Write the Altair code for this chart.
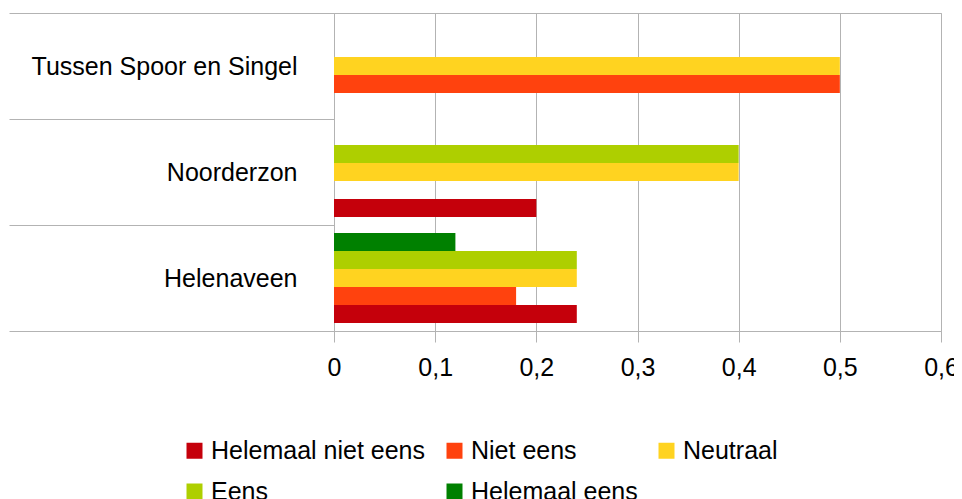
import altair as alt
import pandas as pd

categories = ["Tussen Spoor en Singel", "Noorderzon", "Helenaveen"]
series = ["Helemaal niet eens", "Niet eens", "Neutraal", "Eens", "Helemaal eens"]
colors = ["#C5000B", "#FF420E", "#FFD320", "#AECF00", "#008000"]

helemaal_niet_eens = [0.0, 0.2, 0.24]
niet_eens = [0.5, 0.0, 0.18]
neutraal = [0.5, 0.4, 0.24]
eens = [0.0, 0.4, 0.24]
helemaal_eens = [0.0, 0.0, 0.12]

x_ticks = [0, 0.1, 0.2, 0.3, 0.4, 0.5, 0.6]

rows = []
for s, vals in zip(series, [helemaal_niet_eens, niet_eens, neutraal, eens, helemaal_eens]):
    for c, v in zip(categories, vals):
        rows.append({"Wijk": c, "Mening": s, "Waarde": v})
df = pd.DataFrame(rows)

FONT = "Liberation Sans"
GRID = "#b3b3b3"

chart = alt.Chart(df).mark_bar().encode(
    y=alt.Y(
        "Wijk:N",
        sort=categories,
        scale=alt.Scale(paddingInner=0, paddingOuter=0),
        axis=alt.Axis(
            title=None,
            tickBand="extent",
            tickSize=325,
            tickColor=GRID,
            domainColor=GRID,
            labelPadding=-288,
            labelFont=FONT,
            labelFontSize=25,
            labelColor="#000000",
            labelLimit=400,
            grid=False,
        ),
    ),
    yOffset=alt.YOffset(
        "Mening:N",
        sort=series[::-1],
        scale=alt.Scale(paddingInner=0, paddingOuter=0.44),
    ),
    x=alt.X(
        "Waarde:Q",
        scale=alt.Scale(domain=[0, 0.6], nice=False),
        axis=alt.Axis(
            title=None,
            values=x_ticks,
            labelExpr="replace(format(datum.value, '.1~f'), '.', ',')",
            labelFlush=False,
            tickSize=11,
            tickColor=GRID,
            domainColor=GRID,
            gridColor=GRID,
            labelPadding=13,
            labelFont=FONT,
            labelFontSize=25,
            labelColor="#000000",
        ),
    ),
    color=alt.Color(
        "Mening:N",
        sort=series,
        scale=alt.Scale(domain=series, range=colors),
        legend=alt.Legend(
            title=None,
            orient="none",
            legendX=-152,
            legendY=425,
            direction="horizontal",
            columns=3,
            columnPadding=16,
            rowPadding=15,
            symbolType="square",
            symbolSize=256,
            symbolStrokeWidth=0,
            labelFont=FONT,
            labelFontSize=25,
            labelColor="#000000",
            labelOffset=4,
            labelLimit=400,
        ),
    ),
).properties(
    width=607,
    height=318,
    autosize=alt.AutoSizeParams(type="none"),
    padding={"left": 326, "top": 5, "right": 13, "bottom": 168},
).configure_view(
    stroke=GRID,
)

chart.save("out.html", embed_options={"renderer": "svg", "actions": False})
